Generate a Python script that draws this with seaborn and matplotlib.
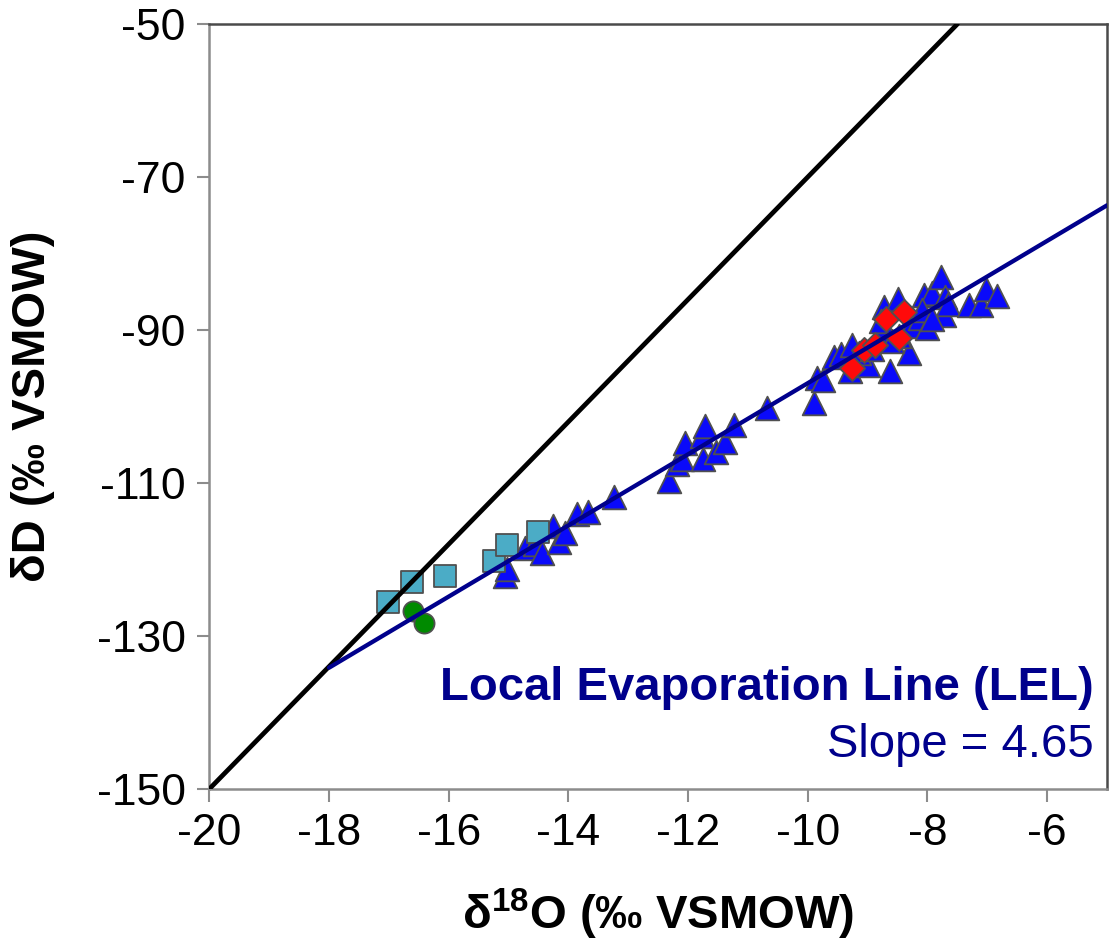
import numpy as np
import pandas as pd
import matplotlib
matplotlib.use("Agg")
import matplotlib.pyplot as plt
import seaborn as sns

# Isotope samples (delta 18O, delta D; permil VSMOW)
tri_d18o = [-15.06, -15.02, -14.72, -14.55, -14.44, -14.25, -14.16, -14.05, -13.86, -13.68,
            -13.24, -12.32, -12.18, -12.10, -12.05, -11.77, -11.72, -11.75, -11.54, -11.38,
            -11.24, -10.68, -9.90, -9.85, -9.75, -9.57, -9.45, -9.26, -9.29, -9.00,
            -9.15, -8.92, -8.76, -8.73, -8.50, -8.62, -8.31, -8.78, -8.48, -8.28,
            -8.12, -8.05, -7.92, -7.77, -8.00, -7.73, -7.70, -7.66, -8.09, -7.92,
            -7.31, -7.11, -7.03, -6.83, -8.60]
tri_dD = [-122.2, -121.3, -118.5, -118.0, -119.2, -115.6, -117.7, -116.6, -114.1, -113.8,
          -111.8, -109.7, -107.5, -106.9, -104.8, -103.9, -102.6, -106.8, -106.0, -104.6,
          -102.4, -100.2, -99.6, -96.3, -96.6, -93.5, -93.2, -92.0, -95.4, -94.6,
          -93.0, -92.5, -90.2, -87.0, -86.0, -95.3, -93.0, -88.8, -90.8, -89.5,
          -88.4, -85.4, -85.2, -83.1, -89.8, -88.0, -85.7, -86.6, -87.4, -88.5,
          -86.7, -86.7, -84.7, -85.6, -91.5]

sq_d18o = [-17.01, -16.61, -16.06, -15.25, -15.03, -14.50]
sq_dD = [-125.6, -122.9, -122.2, -120.2, -118.1, -116.4]

circ_d18o = [-16.60, -16.41]
circ_dD = [-126.7, -128.3]

dia_d18o = [-9.26, -9.06, -8.87, -8.70, -8.39, -8.48]
dia_dD = [-95.0, -92.6, -92.0, -88.5, -87.6, -91.1]

# Global meteoric water line: dD = 8 * d18O + 10
GMWL_SLOPE, GMWL_INTERCEPT = 8.0, 10.0
gmwl_x = [-20.0, -7.5]
# Local evaporation line
LEL_SLOPE, LEL_INTERCEPT = 4.65, -50.45
lel_x = [-18.0, -5.0]

x_ticks = [-20, -18, -16, -14, -12, -10, -8, -6]
y_ticks = [-150, -130, -110, -90, -70, -50]

sns.set_theme(style="white")
plt.rcParams["font.family"] = ["Liberation Sans", "DejaVu Sans"]
plt.rcParams["axes.unicode_minus"] = False
plt.rcParams["mathtext.fontset"] = "custom"
plt.rcParams["mathtext.rm"] = "Liberation Sans"
plt.rcParams["mathtext.bf"] = "Liberation Sans:bold"
plt.rcParams["axes.labelcolor"] = "black"

fig = plt.figure(figsize=(11.10, 9.46), dpi=100)
ax = fig.add_axes([0.1886, 0.166, 0.9973 - 0.1886, 0.9746 - 0.166])

edge = "#505050"
groups = [
    (tri_d18o, tri_dD, "^", "#0A0AFA", 290),
    (sq_d18o, sq_dD, "s", "#4BACC6", 250),
    (circ_d18o, circ_dD, "o", "#008A00", 210),
    (dia_d18o, dia_dD, "D", "#FF0A0A", 165),
]
for xs, ys, mk, col, size in groups:
    df = pd.DataFrame({"x": xs, "y": ys})
    sns.scatterplot(data=df, x="x", y="y", marker=mk, color=col, s=size,
                    edgecolor=edge, linewidth=1.3, ax=ax, zorder=3)

gm = pd.DataFrame({"x": gmwl_x})
gm["y"] = GMWL_SLOPE * gm["x"] + GMWL_INTERCEPT
sns.lineplot(data=gm, x="x", y="y", color="black", linewidth=3.4, ax=ax, zorder=4)

le = pd.DataFrame({"x": lel_x})
le["y"] = LEL_SLOPE * le["x"] + LEL_INTERCEPT
sns.lineplot(data=le, x="x", y="y", color="#00008C", linewidth=3.1, ax=ax, zorder=4)

ax.set_xlim(-20, -5)
ax.set_ylim(-150, -50)
ax.set_xticks(x_ticks)
ax.set_yticks(y_ticks)
ax.tick_params(axis="both", direction="out", length=9, width=1.5, color="#8C8C8C",
               labelsize=32, pad=8, labelcolor="black")
ax.tick_params(bottom=True, left=True)

for side in ["left", "bottom"]:
    ax.spines[side].set_color("#8C8C8C")
    ax.spines[side].set_linewidth(1.8)
for side in ["top", "right"]:
    ax.spines[side].set_color("#4A4A4A")
    ax.spines[side].set_linewidth(1.8)

ax.set_xlabel(r"δ$^{\mathbf{18}}$O (‰ VSMOW)", fontsize=34, fontweight="bold", labelpad=24)
ax.set_ylabel("δD (‰ VSMOW)", fontsize=34, fontweight="bold", labelpad=30)

ax.text(0.985, 0.132, "Local Evaporation Line (LEL)", transform=ax.transAxes,
        ha="right", va="center", fontsize=34, fontweight="bold", color="#00008C")
ax.text(0.985, 0.057, f"Slope = {LEL_SLOPE:.2f}", transform=ax.transAxes,
        ha="right", va="center", fontsize=34, color="#00008C")

fig.savefig("out.png", dpi=100, facecolor="white")
